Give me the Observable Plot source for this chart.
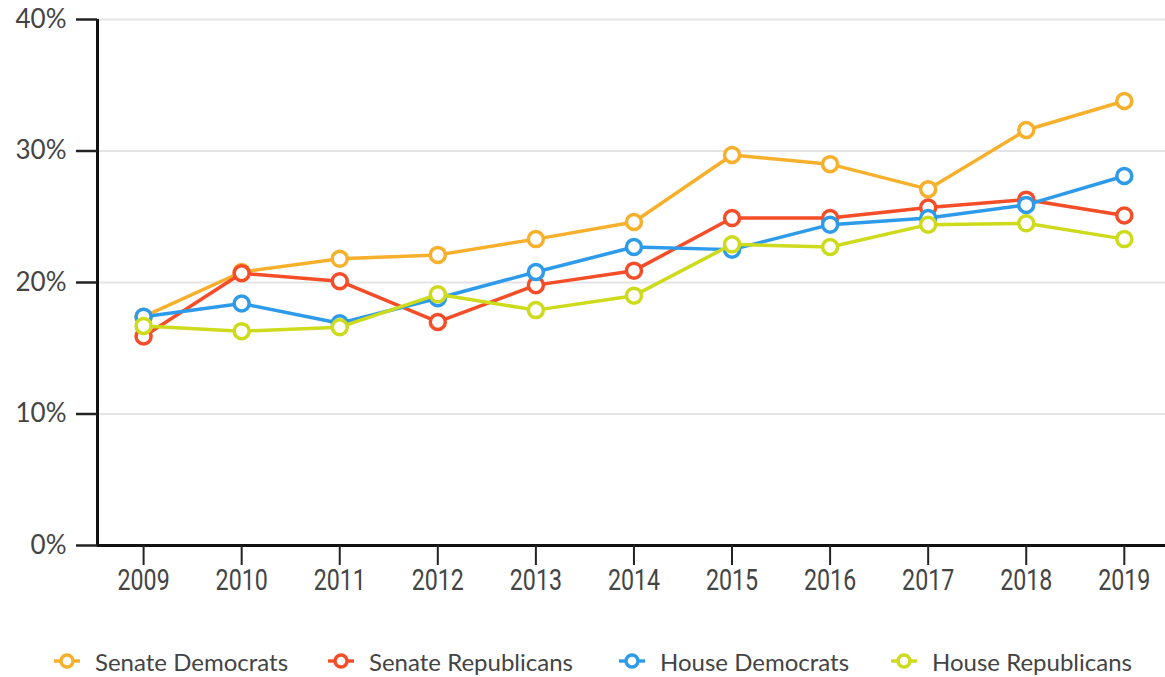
<!DOCTYPE html>
<html>
<head>
<meta charset="utf-8">
<script src="https://cdn.jsdelivr.net/npm/d3@7"></script>
<script src="https://cdn.jsdelivr.net/npm/@observablehq/plot@0.6"></script>
<style>
  html, body { margin: 0; padding: 0; background: #fff; }
  #chart svg { display: block; }
  #legend { position: absolute; top: 648px; left: 0; width: 1165px; height: 26px; font-family: Lato, sans-serif; font-size: 24px; color: #444; }
  .item { position: absolute; top: 0; display: flex; align-items: center; height: 26px; }
  .item svg { margin-right: 14px; }
</style>
</head>
<body>
<div id="chart"></div>
<div id="legend"></div>
<script>
const years = [2009, 2010, 2011, 2012, 2013, 2014, 2015, 2016, 2017, 2018, 2019];
const seriesNames = ["Senate Democrats", "Senate Republicans", "House Democrats", "House Republicans"];
const seriesColors = ["#F7B02B", "#F44D28", "#2E9BEA", "#CDDB1C"];
const senateDemocrats   = [17.4, 20.8, 21.8, 22.1, 23.3, 24.6, 29.7, 29.0, 27.1, 31.6, 33.8];
const senateRepublicans = [15.9, 20.7, 20.1, 17.0, 19.8, 20.9, 24.9, 24.9, 25.7, 26.3, 25.1];
const houseDemocrats    = [17.4, 18.4, 16.9, 18.8, 20.8, 22.7, 22.5, 24.4, 24.9, 25.9, 28.1];
const houseRepublicans  = [16.7, 16.3, 16.6, 19.1, 17.9, 19.0, 22.9, 22.7, 24.4, 24.5, 23.3];
const yTicks = [0, 10, 20, 30, 40];
const legendLeft = [53, 327, 618, 890];

const values = [senateDemocrats, senateRepublicans, houseDemocrats, houseRepublicans];
const rows = [];
seriesNames.forEach((s, i) => years.forEach((y, j) => rows.push({series: s, year: y, value: values[i][j]})));

const xDomain = [years[0] - 0.47, years[years.length - 1] + 0.42];

const marks = [
  Plot.gridY(yTicks.slice(1), {stroke: "#e4e4e4", strokeOpacity: 1, strokeWidth: 2}),
  Plot.ruleY([0], {stroke: "#111", strokeWidth: 3}),
  Plot.ruleX([xDomain[0]], {stroke: "#111", strokeWidth: 3}),
  Plot.axisX({ticks: years, tickFormat: d => String(d), label: null, tickSize: 20, tickPadding: 4, fontSize: 29, fontFamily: "Roboto", stroke: "#222", strokeWidth: 2, color: "#444"}),
  Plot.axisY({ticks: yTicks, tickFormat: d => d + "%", label: null, tickSize: 21, tickPadding: 10, fontSize: 26, fontFamily: "Lato", stroke: "#222", strokeWidth: 2.5, color: "#444"})
];
seriesNames.forEach((s, i) => {
  const d = rows.filter(r => r.series === s);
  marks.push(Plot.line(d, {x: "year", y: "value", stroke: seriesColors[i], strokeWidth: 3.5}));
  marks.push(Plot.dot(d, {x: "year", y: "value", r: 7.5, stroke: seriesColors[i], strokeWidth: 3.5, fill: "white", fillOpacity: 1}));
});

const chart = Plot.plot({
  width: 1165,
  height: 600,
  marginLeft: 97,
  marginRight: 0,
  marginTop: 19,
  marginBottom: 55,
  x: {domain: xDomain, axis: null, label: null},
  y: {domain: [0, 40], axis: null, label: null},
  style: {background: "white", overflow: "visible"},
  marks
});
document.getElementById("chart").appendChild(chart);

// condense x-axis labels
chart.querySelectorAll('[aria-label="x-axis tick label"] text').forEach(t => {
  const tr = t.getAttribute("transform") || "";
  t.setAttribute("transform", tr + " scale(0.8,1)");
});

const legend = document.getElementById("legend");
seriesNames.forEach((s, i) => {
  const it = document.createElement("div");
  it.className = "item";
  it.style.left = legendLeft[i] + "px";
  it.innerHTML = `<svg width="28" height="20"><line x1="1" x2="27" y1="10" y2="10" stroke="${seriesColors[i]}" stroke-width="3.4"/><circle cx="14" cy="10" r="6" fill="white" stroke="${seriesColors[i]}" stroke-width="3.4"/></svg><span>${s}</span>`;
  legend.appendChild(it);
});
</script>
</body>
</html>
